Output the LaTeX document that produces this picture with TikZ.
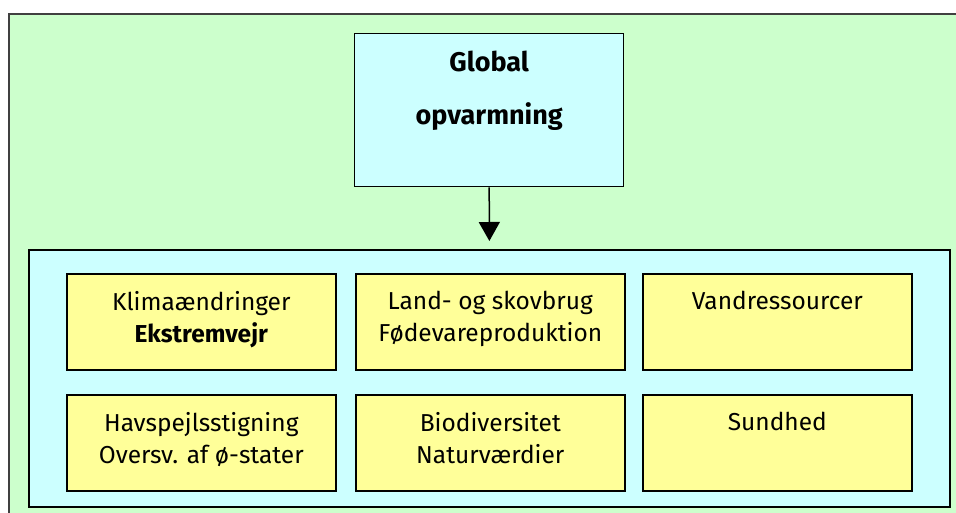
\documentclass[tikz,border=0pt]{standalone}
\usepackage{fontspec}
\setmainfont{Fira Sans}
\usetikzlibrary{arrows.meta,positioning}
\definecolor{panelgreen}{HTML}{CCFFCC}
\definecolor{panelblue}{HTML}{CCFFFF}
\definecolor{boxyellow}{HTML}{FFFF99}
\tikzset{pixels/.style={
  x=1pt,y=-1pt,
  >={Triangle[length=19pt,width=21pt]},line join=miter
},
  topicbox/.style={draw=black,line width=1.6pt,fill=boxyellow,anchor=north west,
    minimum width=269pt,minimum height=96pt,inner sep=0pt},
  topictext/.style={anchor=north,align=center,inner sep=0pt,
    font=\fontsize{24.5}{32}\selectfont}
}

\begin{document}
\begin{tikzpicture}[pixels]
  \useasboundingbox (0,0) rectangle (956,513);
  \clip (0,0) rectangle (956,513);
  \draw[line width=2pt,draw=black!75,fill=panelgreen] (9,14) rectangle (975,530);
  \node[draw=black,line width=1.8pt,fill=panelblue,anchor=north west,
    minimum width=921pt,minimum height=257pt,inner sep=0pt] (effects) at (28,249) {};
  \node[draw=black,line width=1.4pt,fill=panelblue,anchor=north west,
    minimum width=269pt,minimum height=153pt,inner sep=0pt] (warming) at (354,33) {};
  \node[anchor=north,align=center,inner sep=0pt,font=\fontsize{27}{53}\selectfont\bfseries]
    (warmingtext) at ([yshift=-18pt]warming.north) {Global\\opvarmning};
  \draw[->,line width=1.5pt,shorten >=8pt] (warming.south) -- (effects.north);
  % first row
  \node[topicbox] (climate) at (66,273) {};
  \node[topicbox] (farming) at (355,273) {};
  \node[topicbox] (water) at (642,273) {};
  % second row
  \node[topicbox] (sealevel) at (66,394) {};
  \node[topicbox] (nature) at (355,394) {};
  \node[topicbox] (health) at (642,394) {};
  \node[topictext] (climatetext) at ([yshift=-18pt]climate.north)
    {Klimaændringer\\\textbf{Ekstremvejr}};
  \node[topictext] (farmingtext) at ([yshift=-18pt]farming.north)
    {Land- og skovbrug\\Fødevareproduktion};
  \node[topictext] (watertext) at ([yshift=-18pt]water.north) {Vandressourcer};
  \node[topictext] (sealeveltext) at ([yshift=-18pt]sealevel.north)
    {Havspejlsstigning\\Oversv. af ø-stater};
  \node[topictext] (naturetext) at ([yshift=-18pt]nature.north)
    {Biodiversitet\\Naturværdier};
  \node[topictext] (healthtext) at ([yshift=-18pt]health.north) {Sundhed};
\end{tikzpicture}
\end{document}
